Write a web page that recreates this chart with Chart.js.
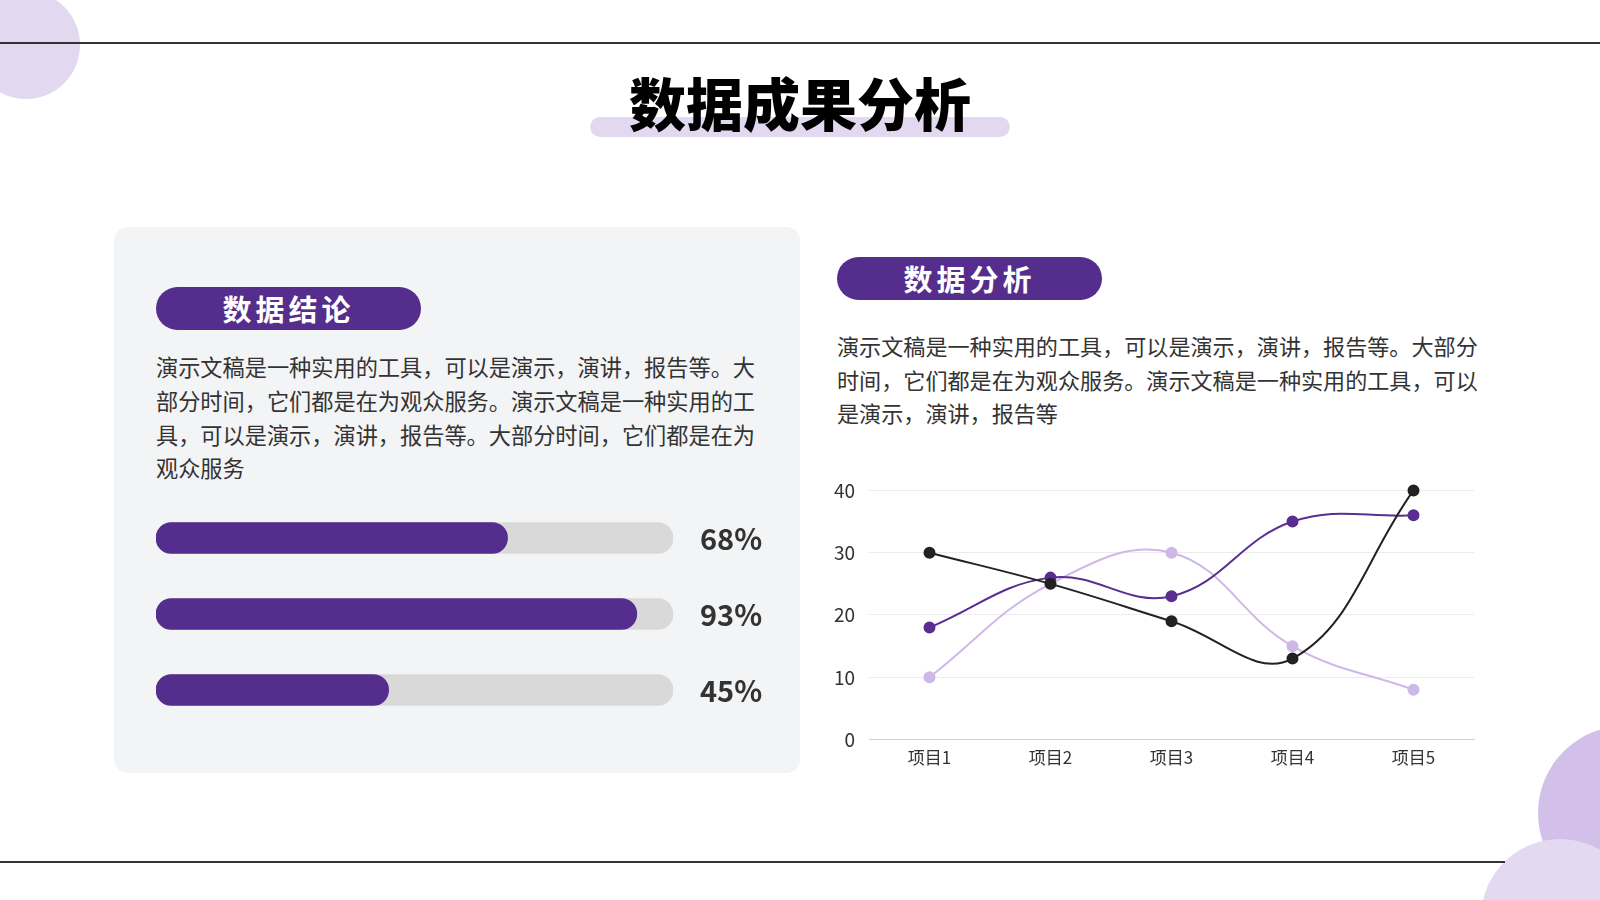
<!DOCTYPE html>
<html>
<head>
<meta charset="utf-8">
<script src="https://cdn.jsdelivr.net/npm/chart.js@4"></script>
<style>
  html, body { margin: 0; padding: 0; }
  body { width: 1600px; height: 900px; position: relative; overflow: hidden; background: #fff;
         font-family: "Noto Sans CJK SC", "Noto Sans", sans-serif; color: #333; }
  .abs { position: absolute; }
  .circle { position: absolute; border-radius: 50%; }
  .rule { position: absolute; left: 0; width: 1600px; height: 2px; background: #333; }
  .title { left: 0; width: 1600px; top: 60px; text-align: center; font-size: 57px; font-weight: 900; color: #000; }
  .hl { left: 590px; top: 117px; width: 420px; height: 20px; border-radius: 10px; background: #e2d9f0; }
  .panel { left: 114px; top: 227px; width: 686px; height: 546px; border-radius: 14px; background: #f3f4f6; }
  .pill { height: 43px; border-radius: 22px; background: #552d8c; color: #fff; font-size: 29px; font-weight: 700;
          text-align: center; line-height: 43px; letter-spacing: 4px; }
  .para { color: #333; }
</style>
</head>
<body>
<div class="circle" style="left:-28px; top:-9px; width:108px; height:108px; background:#e2d9f0;"></div>
<div class="circle" style="left:1538px; top:726px; width:174px; height:174px; background:#d2bfea;"></div>
<div class="circle" style="left:1481px; top:839px; width:158px; height:158px; background:#e3d9f1;"></div>
<div class="rule" style="top:42px;"></div>
<div class="rule" style="top:861px; width:1505px;"></div>

<div class="abs hl"></div>
<div class="abs title">数据成果分析</div>

<div class="abs panel"></div>
<div class="abs pill" style="left:156px; top:287px; width:265px;">数据结论</div>
<div class="abs para" style="left:156px; top:350px; width:610px; font-size:22.2px; line-height:33.8px;">演示文稿是一种实用的工具，可以是演示，演讲，报告等。大部分时间，它们都是在为观众服务。演示文稿是一种实用的工具，可以是演示，演讲，报告等。大部分时间，它们都是在为观众服务</div>
<div class="abs" style="left:146px; top:500px; width:640px; height:228px;"><canvas id="barChart"></canvas></div>

<div class="abs pill" style="left:837px; top:257px; width:265px;">数据分析</div>
<div class="abs para" style="left:837px; top:329px; width:652px; font-size:22.1px; line-height:33.6px;">演示文稿是一种实用的工具，可以是演示，演讲，报告等。大部分时间，它们都是在为观众服务。演示文稿是一种实用的工具，可以是演示，演讲，报告等</div>
<div class="abs" style="left:810px; top:465px; width:680px; height:303px;"><canvas id="lineChart"></canvas></div>

<script>
// progress values (percent)
const progressLabels = ["A", "B", "C"];
const progressValues = [68, 93, 45];

// line chart data
const categories = ["项目1", "项目2", "项目3", "项目4", "项目5"];
const series1 = [18, 26, 23, 35, 36];   // dark purple
const series2 = [10, 25, 30, 15, 8];    // lavender
const series3 = [30, 25, 19, 13, 40];   // black
const yTicks = [0, 10, 20, 30, 40];

const FONT = '"Noto Sans CJK SC", "Noto Sans", sans-serif';

// draws the "68%" labels to the right of the track
const pctLabels = {
  id: "pctLabels",
  afterDatasetsDraw(chart) {
    const ctx = chart.ctx;
    const meta = chart.getDatasetMeta(0);
    ctx.save();
    ctx.font = "700 29px " + FONT;
    ctx.fillStyle = "#333";
    ctx.textBaseline = "middle";
    meta.data.forEach((bar, i) => {
      ctx.fillText(progressValues[i] + "%", chart.chartArea.right + 27, bar.y + 1);
    });
    ctx.restore();
  }
};

new Chart(document.getElementById("barChart"), {
  type: "bar",
  data: {
    labels: progressLabels,
    datasets: [
      { data: progressValues, backgroundColor: "#552d8c", borderRadius: 16, borderSkipped: false,
        barThickness: 31, grouped: false, order: 0 },
      { data: progressValues.map(() => 100), backgroundColor: "#d9d9d9", borderRadius: 16, borderSkipped: false,
        barThickness: 31, grouped: false, order: 1 }
    ]
  },
  options: {
    indexAxis: "y",
    responsive: true,
    maintainAspectRatio: false,
    animation: false,
    layout: { padding: { left: 10, right: 113, top: 0, bottom: 0 } },
    plugins: { legend: { display: false }, tooltip: { enabled: false } },
    scales: {
      x: { display: false, min: 0, max: 100 },
      y: { display: false }
    }
  },
  plugins: [pctLabels]
});

new Chart(document.getElementById("lineChart"), {
  type: "line",
  data: {
    labels: categories,
    datasets: [
      { data: series2, borderColor: "#cdb8e8", backgroundColor: "#cdb8e8", order: 3 },
      { data: series1, borderColor: "#5a2d91", backgroundColor: "#5a2d91", order: 2 },
      { data: series3, borderColor: "#222222", backgroundColor: "#222222", order: 1 }
    ].map(d => Object.assign({ tension: 0.4, borderWidth: 2, pointRadius: 5, pointHoverRadius: 5,
                               fill: false, clip: false }, d))
  },
  options: {
    responsive: true,
    maintainAspectRatio: false,
    animation: false,
    layout: { padding: { left: 0, right: 16, top: 4, bottom: 0 } },
    plugins: { legend: { display: false }, tooltip: { enabled: false } },
    scales: {
      x: {
        offset: true,
        grid: { display: false },
        border: { color: "#d0d0d0", width: 1 },
        ticks: { color: "#333", font: { family: FONT, size: 17 }, padding: 0 }
      },
      y: {
        min: 0, max: 40,
        afterBuildTicks: axis => { axis.ticks = yTicks.map(v => ({ value: v })); },
        afterFit: axis => { axis.width = 59; },
        grid: { color: "#ececec", drawTicks: false },
        border: { display: false },
        ticks: { color: "#333", font: { family: FONT, size: 19 }, padding: 14 }
      }
    }
  }
});
</script>
</body>
</html>
